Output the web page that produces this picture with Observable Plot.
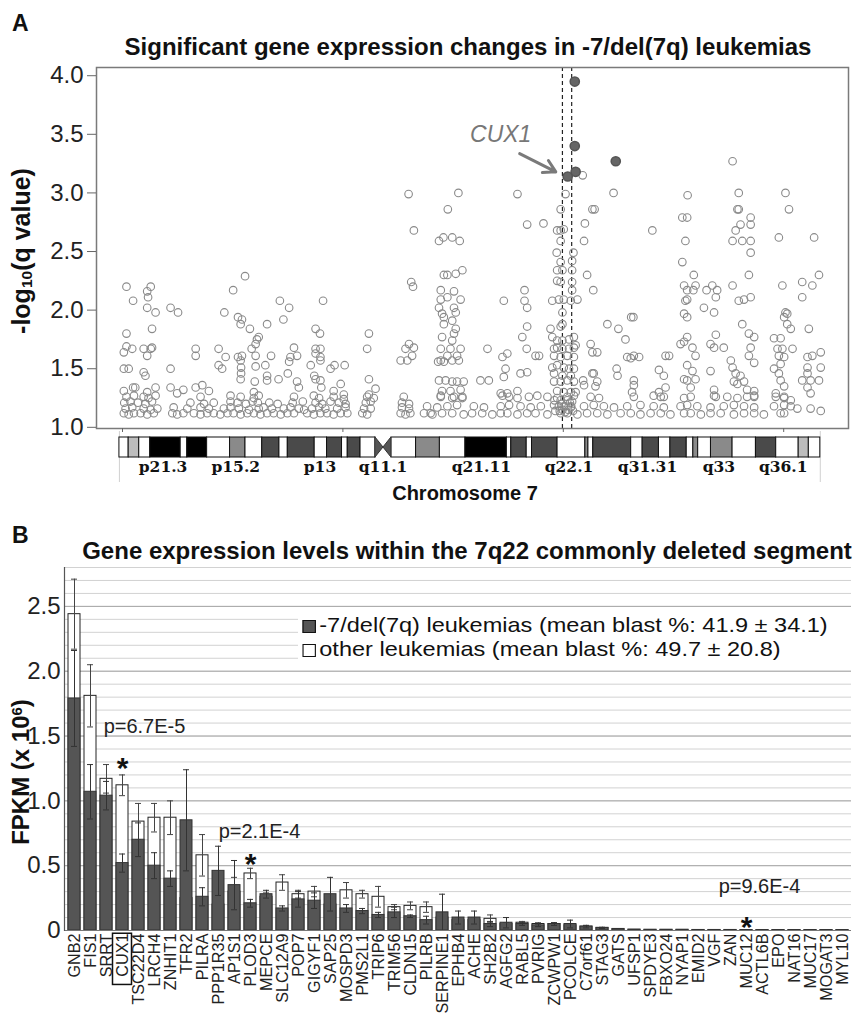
<!DOCTYPE html>
<html><head><meta charset="utf-8">
<script src="https://cdn.jsdelivr.net/npm/d3@7"></script>
<script src="https://cdn.jsdelivr.net/npm/@observablehq/plot@0.6"></script>
<style>
body{margin:0;background:#fff;font-family:"Liberation Sans",Arial,sans-serif;color:#111;}
#wrap{position:relative;width:857px;height:1015px;overflow:hidden;background:#fff;}
.abs{position:absolute;white-space:nowrap;line-height:1;}
.panel{font-weight:bold;font-size:23px;}
.title{font-weight:bold;font-size:24px;transform:translateX(-50%);}
.ylab{font-weight:bold;transform:translate(-50%,-50%) rotate(-90deg);}
.ylab sub{font-size:0.62em;vertical-align:-0.15em;}
.ylab sup{font-size:0.62em;vertical-align:0.45em;}
#legendBox{position:absolute;left:298px;top:612px;width:553px;height:56px;background:#fff;}
#legend{position:absolute;left:298px;top:613px;font-size:21px;line-height:24px;white-space:nowrap;transform:scaleX(1.12);transform-origin:0 0;}
.sw{display:inline-block;width:10px;height:11px;border:1.5px solid #111;margin:0 3px 0 4px;vertical-align:-1px;}
</style></head>
<body><div id="wrap">
<div class="abs panel" style="left:12px;top:12px;">A</div>
<div class="abs title" style="left:468px;top:35px;">Significant gene expression changes in -7/del(7q) leukemias</div>
<div class="abs ylab" style="left:22px;top:251px;font-size:25px;">-log<sub>10</sub>(q value)</div>
<div class="abs title" style="left:465px;top:483px;font-size:20px;">Chromosome 7</div>
<div class="abs panel" style="left:12px;top:524px;">B</div>
<div class="abs title" style="left:467px;top:539px;">Gene expression levels within the 7q22 commonly deleted segment</div>
<div class="abs ylab" style="left:21px;top:772px;font-size:24px;">FPKM (x 10<sup>6</sup>)</div>
</div>
<script>
const FONT = '"Liberation Sans", Arial, sans-serif';

// ---------------- Panel A data ----------------
const yTicksA = [1.0, 1.5, 2.0, 2.5, 3.0, 3.5, 4.0];
const xTicksA = [0, 50, 100, 150]; // Mb
const cdsBounds = [99.8, 101.9];   // 7q22 CDS (Mb)
const filledPts = [[102.6,3.95],[102.6,3.40],[102.8,3.18],[101.0,3.14],[111.9,3.27]];
const cuxLabel = [{x: 85.8, y: 3.50, text: "CUX1"}];
const cuxArrow = [{x1: 90.1, y1: 3.335, x2: 98.3, y2: 3.18}];
const hollowPts = [
 [0.9,2.20],[2.4,2.08],[0.9,1.80],[0.9,1.69],[2.2,1.67],[0.3,1.64],[0.3,1.50],[1.4,1.50],[0.3,1.31],[2.4,1.34],[2.9,1.34],
 [6.4,2.20],[5.6,2.16],[5.8,2.11],[5.6,2.02],[7.5,1.98],[6.7,1.84],[4.8,1.67],[6.4,1.67],[6.7,1.68],[5.6,1.61],[4.8,1.47],[5.2,1.44],[7.5,1.34],[5.6,1.30],
 [10.9,2.02],[12.6,1.98],[10.9,1.50],[10.9,1.34],[13.8,1.32],[12.4,1.29],
 [16.6,1.67],[16.6,1.61],[16.6,1.34],[18.1,1.36],[19.6,1.31],
 [21.8,1.67],[21.8,1.53],[22.6,1.50],[23.1,1.98],[23.4,1.60],[25.1,2.17],[27.8,2.29],
 [26.2,1.94],[27.1,1.92],[26.8,1.88],[28.9,1.84],[26.2,1.60],[27.1,1.61],[26.8,1.57],[26.9,1.51],[26.9,1.46],[26.8,1.41],
 [29.3,1.67],[30.2,1.71],[30.5,1.75],[30.9,1.77],[30.2,1.61],[30.2,1.52],[30.0,1.39],[29.8,1.30],
 [32.8,1.88],[33.7,1.61],[32.4,1.53],[32.8,1.44],[32.8,1.40],
 [35.7,2.08],[37.8,2.02],[36.5,1.92],[35.4,1.41],[37.8,1.56],[38.1,1.60],[38.9,1.68],[39.6,1.61],[37.5,1.46],[39.6,1.39],[40.0,1.34],
 [42.7,1.53],[43.8,1.84],[44.8,1.80],[43.8,1.67],[44.9,1.67],[43.8,1.63],[44.9,1.60],[44.9,1.57],[43.5,1.44],[43.8,1.41],[44.9,1.40],[45.1,1.34],[45.5,2.08],
 [47.2,1.50],[48.1,1.53],[50.4,1.53],[49.5,1.37],[47.9,1.31],[50.2,1.28],
 [55.5,1.67],[55.9,1.80],[55.9,1.41],[55.9,1.28],[57.4,1.33],
 [64.9,2.99],[66.1,2.68],[65.5,2.24],[65.9,2.20],[65.0,1.71],[64.2,1.67],[66.1,1.68],[65.7,1.61],[63.1,1.57],[64.6,1.57],
 // low band, p arm
 [0.3,1.12],[1.4,1.11],[2.6,1.12],[4.1,1.12],[5.6,1.11],[7.1,1.12],[11.3,1.12],[12.4,1.11],[13.8,1.12],[16.2,1.12],[17.7,1.11],[19.2,1.12],[20.7,1.12],[22.2,1.11],[23.8,1.12],[25.2,1.12],[26.8,1.11],[28.3,1.12],[29.8,1.12],[31.3,1.11],[32.8,1.12],[34.3,1.12],[35.9,1.11],[37.4,1.12],[38.9,1.12],[41.9,1.12],[43.4,1.11],[44.9,1.12],[46.4,1.12],[47.9,1.11],[49.5,1.12],[51.0,1.12],[54.4,1.12],[55.5,1.11],[63.1,1.12],[64.2,1.11],[65.3,1.12],[69.9,1.12],
 [0.7,1.16],[2.2,1.17],[4.8,1.16],[6.4,1.15],[7.9,1.16],[11.6,1.17],[14.7,1.16],[17.7,1.17],[19.6,1.16],[23.0,1.16],[24.5,1.17],[26.4,1.16],[28.7,1.15],[30.9,1.16],[32.0,1.17],[33.9,1.16],[36.6,1.16],[38.1,1.17],[40.0,1.16],[41.2,1.15],[43.0,1.16],[44.6,1.17],[46.0,1.16],[48.7,1.16],[50.6,1.17],[54.8,1.16],[56.3,1.16],[63.4,1.17],[65.0,1.16],
 [0.4,1.21],[1.8,1.22],[3.5,1.21],[5.2,1.20],[6.7,1.22],[15.4,1.21],[18.5,1.20],[20.7,1.21],[24.5,1.22],[26.1,1.21],[28.0,1.20],[29.5,1.22],[30.7,1.21],[33.3,1.21],[35.2,1.20],[38.6,1.21],[40.9,1.22],[43.8,1.21],[45.3,1.20],[47.2,1.22],[49.1,1.21],[50.6,1.20],[55.2,1.21],[56.3,1.22],[63.4,1.21],[65.0,1.20],
 [0.9,1.26],[2.6,1.27],[4.8,1.26],[5.9,1.25],[7.5,1.27],[17.7,1.26],[24.5,1.27],[26.8,1.26],[29.8,1.25],[30.9,1.27],[38.9,1.26],[43.4,1.27],[44.6,1.25],[47.9,1.26],[50.2,1.24],[55.5,1.26],[57.0,1.25],[63.8,1.26],
 // q arm
 [76.2,3.00],[73.8,2.86],[71.8,2.59],[72.8,2.62],[74.8,2.62],[76.5,2.59],
 [72.9,2.30],[73.7,2.30],[75.6,2.31],[77.1,2.34],[72.2,2.17],[75.2,2.16],[72.2,2.09],[73.7,2.11],[76.7,2.09],
 [71.8,2.02],[75.2,2.02],[72.5,1.97],[75.6,1.98],[72.9,1.94],[74.8,1.91],[72.9,1.88],[75.6,1.84],
 [72.5,1.77],[75.2,1.80],[74.8,1.74],[72.2,1.67],[74.4,1.67],[76.7,1.67],
 [71.6,1.56],[72.2,1.57],[72.9,1.56],[74.8,1.57],[76.3,1.57],[73.7,1.61],[75.9,1.61],
 [71.8,1.40],[73.3,1.40],[74.8,1.39],[75.9,1.39],[77.4,1.39],
 [72.5,1.31],[74.4,1.31],[76.7,1.32],[72.2,1.27],[75.2,1.26],[77.1,1.25],
 [82.8,1.67],[86.2,1.60],[87.3,1.63],[86.9,1.50],[86.5,1.43],
 [81.2,1.40],[83.1,1.40],[85.8,1.29],[87.3,1.29],[89.6,1.31],
 [90.3,1.46],[91.8,1.47],[93.7,1.61],[94.5,1.61],
 [89.6,2.99],[91.8,2.73],[95.5,2.74],[91.2,2.17],[91.2,2.08],[91.8,2.02],[91.8,1.86],[90.7,1.77],[91.7,1.67],[86.5,2.08],
 [100.5,2.99],[99.4,2.86],[98.6,2.68],[99.4,2.68],[100.1,2.69],[99.4,2.59],[98.5,2.49],[102.3,2.49],[99.4,2.41],[102.0,2.42],
 [98.6,2.34],[99.8,2.34],[102.0,2.34],[98.6,2.25],[99.4,2.24],[102.0,2.24],[102.0,2.17],
 [97.5,2.08],[99.0,2.09],[100.1,2.09],[101.7,2.08],[103.2,2.09],[99.8,1.98],[97.1,1.84],[99.4,1.86],[99.8,1.88],
 [97.5,1.77],[98.6,1.74],[99.8,1.74],[101.3,1.75],[102.4,1.77],[102.8,1.70],
 [97.9,1.67],[98.6,1.68],[99.8,1.67],[101.3,1.67],[102.4,1.68],
 [97.9,1.61],[99.4,1.60],[100.9,1.61],[102.4,1.60],
 [97.5,1.51],[98.6,1.53],[100.1,1.51],[101.3,1.50],[102.4,1.50],
 [97.9,1.46],[99.8,1.44],[101.7,1.44],
 [97.9,1.39],[99.4,1.39],[100.9,1.40],[102.4,1.39],
 [98.6,1.31],[100.1,1.30],[101.7,1.30],[102.8,1.30],
 [99.4,1.23],[100.9,1.23],[98.0,1.23],[102.0,1.22],[99.0,1.18],[100.5,1.18],[101.8,1.18],
 [104.4,3.15],[104.9,2.74],[104.7,2.59],[105.4,2.30],[106.8,2.17],[106.6,2.86],[107.1,2.86],
 [106.2,1.71],[106.6,1.64],[107.7,1.64],[106.6,1.46],[106.9,1.46],[107.7,1.39],[107.3,1.35],[104.5,1.40],[104.7,1.36],
 [111.4,3.00],[110.0,1.88],[112.5,1.84],[114.1,1.75],[115.4,1.94],[115.9,1.94],[112.1,1.50],[112.3,1.44],
 [114.5,1.60],[115.3,1.59],[116.0,1.61],[117.2,1.60],[116.0,1.40],[116.0,1.36],[115.6,1.30],
 [120.2,2.68],[121.7,1.49],[122.8,1.44],[123.2,1.61],[124.0,1.61],[121.7,1.30],[123.2,1.34],[122.8,1.26],
 [128.2,2.98],[127.0,2.79],[128.1,2.79],[127.7,2.59],[127.0,2.41],[129.6,2.30],[127.4,2.21],[128.1,2.17],[129.5,2.17],[130.0,2.21],[128.1,2.09],[127.7,2.08],[127.4,1.97],[128.1,1.94],
 [132.5,2.17],[133.8,2.21],[134.9,2.17],[134.6,2.11],[131.9,2.02],[134.2,1.98],
 [126.6,1.71],[127.4,1.73],[128.1,1.77],[129.3,1.68],[130.0,1.61],[128.1,1.53],[129.3,1.48],[130.0,1.41],[127.4,1.41],[128.1,1.40],[128.9,1.34],
 [133.4,1.71],[134.2,1.68],[134.6,1.79],[136.4,1.68],[133.4,1.48],[134.2,1.32],[134.6,1.26],
 [138.4,3.27],[139.8,3.00],[139.8,2.86],[139.5,2.86],[142.5,2.79],[140.2,2.73],[142.5,2.73],[139.1,2.68],
 [138.4,2.59],[140.6,2.59],[142.5,2.59],[142.5,2.49],[142.1,2.30],[138.4,2.21],[139.8,2.08],[142.5,2.11],[141.0,2.09],[140.6,1.88],
 [138.0,1.57],[138.4,1.51],[139.1,1.46],[140.2,1.44],[138.7,1.39],[139.5,1.37],
 [142.1,1.80],[143.3,1.77],[142.5,1.68],[142.1,1.61],[143.3,1.55],[141.0,1.39],[141.7,1.32],[143.3,1.31],[143.3,1.26],
 [150.4,3.00],[151.2,2.86],[148.9,2.62],[156.9,2.62],[158.0,2.30],[156.5,2.21],[154.2,2.24],[154.2,2.11],[149.7,2.21],
 [150.4,1.98],[150.8,1.97],[150.1,1.94],[150.8,1.88],[151.6,1.84],[155.7,1.84],
 [147.8,1.76],[149.3,1.76],[148.6,1.67],[149.7,1.67],[152.0,1.67],[148.9,1.61],[150.1,1.60],[149.3,1.54],
 [147.8,1.50],[148.9,1.46],[149.3,1.40],[150.1,1.35],[148.2,1.29],[150.1,1.26],[151.6,1.23],
 [155.4,1.60],[156.5,1.61],[158.4,1.64],[155.4,1.51],[158.4,1.51],[155.4,1.46],[154.2,1.40],[156.1,1.40],[158.0,1.40],[155.4,1.34],[156.1,1.29],
 [153.1,1.16],[156.1,1.16],[158.4,1.14],
 // low band, q arm
 [68.4,1.12],[70.3,1.11],[72.5,1.12],[74.8,1.12],[77.4,1.11],[79.3,1.12],[81.6,1.12],[83.9,1.11],[85.8,1.12],[87.3,1.12],[89.6,1.11],[91.8,1.12],[93.7,1.12],[96.4,1.11],[99.4,1.12],[100.9,1.12],[103.2,1.11],[105.4,1.12],[107.7,1.12],[110.0,1.11],[113.0,1.12],[115.3,1.12],[117.5,1.11],[119.8,1.12],[122.1,1.12],[124.3,1.11],[127.4,1.12],[128.9,1.12],[131.2,1.11],[133.4,1.12],[135.7,1.12],[138.7,1.11],[141.0,1.12],[143.3,1.12],[145.5,1.11],[149.3,1.12],[150.1,1.12],
 [69.1,1.18],[71.4,1.17],[73.7,1.18],[75.9,1.19],[79.7,1.18],[82.0,1.17],[85.8,1.18],[87.7,1.19],[90.3,1.18],[92.6,1.17],[94.9,1.18],[97.9,1.19],[100.1,1.18],[101.7,1.17],[104.7,1.18],[106.9,1.19],[109.2,1.18],[111.5,1.17],[114.5,1.18],[117.5,1.19],[120.5,1.18],[122.8,1.17],[126.6,1.18],[128.1,1.19],[130.4,1.18],[133.4,1.17],[136.4,1.18],[138.7,1.19],[141.0,1.18],[143.3,1.17],[147.8,1.18],[150.1,1.19],[151.6,1.18],
 [72.2,1.26],[74.8,1.25],[77.1,1.26],[86.2,1.27],[87.7,1.26],[89.6,1.25],[92.2,1.26],[94.1,1.27],[96.4,1.26],[98.6,1.25],[100.9,1.26],[102.4,1.27],[106.2,1.26],[108.1,1.25],[116.0,1.26],[120.5,1.27],[122.1,1.26],[127.4,1.25],[128.9,1.26],[134.2,1.27],[137.2,1.26],[139.5,1.25],[141.7,1.26],[143.3,1.27],[148.2,1.26],[150.1,1.25],
 [99.2,1.14],[99.8,1.15],[100.4,1.13],[101.1,1.15],[99.6,1.20],[101.5,1.21],[98.2,1.14],[102.2,1.14]
];

// chromosome 7 ideogram (Mb)
const bandStart = [-0.7,1.4,3.8,6.3,13.2,14.7,19.2,24.4,27.9,31.7,35.6,37.5,43.6,46.4,49.8,51.1,54.0,
  61.0,66.6,72.0,77.8,87.2,88.2,91.7,92.9,98.7,105.0,105.7,106.8,115.4,118.0,121.7,124.3,128.0,129.5,130.6,133.5,138.4,143.7,148.3,153.4,155.7];
const bandEnd = [1.4,3.8,6.3,13.2,14.7,19.2,24.4,27.9,31.7,35.6,37.5,43.6,46.4,49.8,51.1,54.0,57.4,
  66.6,72.0,77.8,87.2,88.2,91.7,92.9,98.7,105.0,105.7,106.8,115.4,118.0,121.7,124.3,128.0,129.5,130.6,133.5,138.4,143.7,148.3,153.4,155.7,158.3];
const bandStain = ["w","lg","w","k","w","k","w","g","w","dg","w","dg","w","dg","w","dg","w",
  "w","g","w","k","w","dg","w","dg","w","g","w","dg","w","dg","w","dg","w","g","w","g","w","dg","w","lg","w"];
const stainColor = {w:"#ffffff", lg:"#bdbdbd", g:"#8a8a8a", dg:"#4a4a4a", k:"#000000"};
const centromere = [{x:57.4, lo:0, hi:1},{x:59.2, lo:0.5, hi:0.5},{x:61.0, lo:0, hi:1}];
const bandLabels = ["p21.3","p15.2","p13","q11.1","q21.11","q22.1","q31.31","q33","q36.1"];
const bandLabelPos = [9.2, 25.7, 44.8, 59.1, 81.4, 101.3, 119.1, 135.3, 149.9];

// ---------------- Panel B data ----------------
const genes = ["GNB2","FIS1","SRRT","CUX1","TSC22D4","LRCH4","ZNHIT1","TFR2","PILRA","PPP1R35","AP1S1","PLOD3","MEPCE","SLC12A9","POP7","GIGYF1","SAP25","MOSPD3","PMS2L1","TRIP6","TRIM56","CLDN15","PILRB","SERPINE1","EPHB4","ACHE","SH2B2","AGFG2","RABL5","PVRIG","ZCWPW1","PCOLCE","C7orf61","STAG3","GATS","UFSP1","SPDYE3","FBXO24","NYAP1","EMID2","VGF","ZAN","MUC12","ACTL6B","EPO","NAT16","MUC17","MOGAT3","MYL10"];
const delMean = [1.79,1.07,1.04,0.52,0.70,0.50,0.40,0.85,0.26,0.46,0.35,0.21,0.28,0.17,0.24,0.23,0.28,0.17,0.15,0.12,0.14,0.11,0.08,0.14,0.10,0.10,0.05,0.06,0.05,0.04,0.05,0.05,0.03,0.02,0.012,0.006,0.005,0.005,0.005,0.004,0.004,0.004,0.003,0.003,0.003,0.003,0.003,0.003,0.003];
const delSD =   [0.37,0.21,0.11,0.07,0.13,0.10,0.06,0.39,0.07,0.19,0.19,0.03,0.03,0.02,0.06,0.06,0.13,0.03,0.02,0.02,0.04,0.01,0.03,0.14,0.05,0.05,0.02,0.04,0.01,0.01,0.01,0.03,0.01,0.005,0,0,0,0,0,0,0,0,0,0,0,0,0,0,0];
const otherMean = [2.44,1.81,1.17,1.12,0.84,0.87,0.87,0.25,0.58,0.20,0.30,0.44,0.26,0.37,0.28,0.30,0.20,0.31,0.28,0.26,0.18,0.19,0.18,0.10,0.08,0.08,0.09,0.05,0.06,0.05,0.05,0.04,0.03,0.02,0.01,0.006,0.005,0.005,0.005,0.004,0.004,0.004,0.003,0.003,0.003,0.003,0.003,0.003,0.003];
const otherSD =   [0.27,0.24,0.11,0.08,0.14,0.11,0.13,0.05,0.16,0.05,0.11,0.04,0.03,0.06,0.03,0.04,0.05,0.06,0.03,0.08,0.02,0.03,0.04,0.02,0.02,0.02,0.03,0.01,0.01,0.01,0.01,0.01,0.005,0,0,0,0,0,0,0,0,0,0,0,0,0,0,0,0];
const yTicksB = [0, 0.5, 1.0, 1.5, 2.0, 2.5];
const sigGenes = [{gene:"CUX1", y:1.30},{gene:"PLOD3", y:0.56},{gene:"MUC12", y:0.07}];
const pLabels = [{gene:"CUX1", y:1.57, text:"p=6.7E-5", dx:22},{gene:"PLOD3", y:0.76, text:"p=2.1E-4", dx:9},{gene:"MUC12", y:0.34, text:"p=9.6E-4", dx:13}];
const legendItems = [
  {label:"-7/del(7q) leukemias (mean blast %: 41.9 ± 34.1)", color:"#555"},
  {label:"other leukemias (mean blast %: 49.7 ± 20.8)", color:"#fff"}
];

const wrap = document.getElementById("wrap");
function place(node, top){ node.style.position="absolute"; node.style.left="0px"; node.style.top=top+"px"; wrap.appendChild(node); }

// ---------- Panel A scatter ----------
const xDom = [-5.9, 164.7];
const plotA = Plot.plot({
  width: 857, height: 450, marginLeft: 96, marginRight: 9, marginTop: 67, marginBottom: 22,
  x: {domain: xDom, axis: null},
  y: {domain: [0.99, 4.07], axis: null},
  style: {fontFamily: FONT, color: "#222", background: "transparent"},
  marks: [
    Plot.ruleX(cdsBounds, {stroke: "#222", strokeWidth: 1.2, strokeDasharray: "4,3"}),
    Plot.dot(hollowPts, {x: d => d[0], y: d => d[1], r: 3.8, stroke: "#8a8a8a", strokeWidth: 1.1, fill: "none"}),
    Plot.dot(filledPts, {x: d => d[0], y: d => d[1], r: 4.6, fill: "#666", stroke: "#555"}),
    Plot.arrow(cuxArrow, {x1: "x1", y1: "y1", x2: "x2", y2: "y2", stroke: "#7a7a7a", strokeWidth: 3, headLength: 12}),
    Plot.text(cuxLabel, {x: "x", y: "y", text: "text", fontSize: 23, fontStyle: "italic", fill: "#777"}),
    Plot.frame({stroke: "#7a7a7a", strokeWidth: 1.5}),
    Plot.axisY({ticks: yTicksA, tickFormat: d3.format(".1f"), tickSize: 9, tickPadding: 4, fontSize: 24, stroke: "#666", label: null}),
    Plot.axisX({ticks: xTicksA, tickSize: 4, tickFormat: () => "", stroke: "#666", label: null})
  ]
});
place(plotA, 0);

// ---------- Ideogram ----------
const bands = bandStart.map((s, i) => ({x1: s, x2: bandEnd[i], stain: bandStain[i]}));
const ideo = Plot.plot({
  width: 857, height: 52, marginLeft: 96, marginRight: 9, marginTop: 0, marginBottom: 0,
  x: {domain: xDom, axis: null},
  y: {domain: [0, 1], range: [27, 7], axis: null},
  style: {fontFamily: FONT, background: "transparent"},
  marks: [
    Plot.ruleX([bandStart[0], bandEnd[bandEnd.length - 1]], {y1: 1.3, y2: -2.1, stroke: "#d0d0d0"}),
    Plot.rect(bands, {x1: "x1", x2: "x2", y1: 0, y2: 1, fill: d => stainColor[d.stain], stroke: "#111", strokeWidth: 1}),
    Plot.area(centromere, {x1: "x", y1: "lo", y2: "hi", fill: "#555", stroke: "#333", curve: "linear"}),
    Plot.text(bandLabels, {x: (d, i) => bandLabelPos[i], y: -0.5, text: d => d, fontFamily: '"DejaVu Serif", serif', fontWeight: "bold", fontSize: 15.5, fill: "#111"})
  ]
});
place(ideo, 430);

// ---------- Panel B ----------
const rows = genes.map((g, i) => ({gene: g, del: delMean[i], delSD: delSD[i], other: otherMean[i], otherSD: otherSD[i]}));
const gridMinor = d3.range(1, 29).map(i => i / 10);
const plotB = Plot.plot({
  width: 857, height: 490, marginLeft: 64, marginRight: 6, marginTop: 42, marginBottom: 85,
  x: {domain: genes, paddingInner: 0.28, paddingOuter: 0.14},
  y: {domain: [0, 2.8]},
  style: {fontFamily: FONT, color: "#222", background: "transparent"},
  marks: [
    Plot.ruleY(gridMinor, {stroke: "#d2d2d2", strokeWidth: 1}),
    Plot.ruleY(yTicksB.slice(1), {stroke: "#a8a8a8", strokeWidth: 1}),
    Plot.barY(rows, {x: "gene", y: "other", fill: "#fff", stroke: "#222", strokeWidth: 1}),
    Plot.ruleX(rows.filter(d => d.otherSD > 0), {x: "gene", y1: d => d.other - d.otherSD, y2: d => d.other + d.otherSD, stroke: "#444", strokeWidth: 1}),
    Plot.tickY(rows.filter(d => d.otherSD > 0), {x: "gene", y: d => d.other + d.otherSD, stroke: "#444", insetLeft: 3, insetRight: 3}),
    Plot.tickY(rows.filter(d => d.otherSD > 0), {x: "gene", y: d => d.other - d.otherSD, stroke: "#444", insetLeft: 3, insetRight: 3}),
    Plot.barY(rows, {x: "gene", y: "del", fill: "#555", stroke: "#333", strokeWidth: 1}),
    Plot.ruleX(rows.filter(d => d.delSD > 0), {x: "gene", y1: d => d.del - d.delSD, y2: d => d.del + d.delSD, stroke: "#333", strokeWidth: 1}),
    Plot.tickY(rows.filter(d => d.delSD > 0), {x: "gene", y: d => d.del + d.delSD, stroke: "#333", insetLeft: 3, insetRight: 3}),
    Plot.tickY(rows.filter(d => d.delSD > 0), {x: "gene", y: d => d.del - d.delSD, stroke: "#333", insetLeft: 3, insetRight: 3}),
    Plot.ruleY([0], {stroke: "#777"}),
    Plot.frame({anchor: "left", stroke: "#555", strokeWidth: 1.2}),
    Plot.text(sigGenes, {x: "gene", y: "y", text: () => "*", fontSize: 30, fontWeight: "bold", fill: "#111", dy: 6}),
    Plot.text(pLabels, {x: "gene", y: "y", text: "text", fontSize: 20, fill: "#222"}),
    Plot.barY([{gene: "CUX1"}], {x: "gene", y1: -0.025, y2: -0.42, fill: "none", stroke: "#111", strokeWidth: 1.5, insetLeft: -3.5, insetRight: -3.5}),
    Plot.axisY({ticks: yTicksB, tickFormat: d => d === 0 ? "0" : d.toFixed(1), tickSize: 0, tickPadding: 4, fontSize: 24, label: null}),
    Plot.axisX({tickSize: 0, tickRotate: -90, tickPadding: 3, fontSize: 16.2, label: null})
  ]
});
place(plotB, 525);

// shift p-value labels horizontally by their own dx
plotB.querySelectorAll("g[aria-label='text'] text").forEach(t => {
  const p = pLabels.find(p => p.text === t.textContent);
  if (p) t.setAttribute("transform", (t.getAttribute("transform") || "") + ` translate(${p.dx},0)`);
});

// legend (HTML) over a white box that hides the gridlines
const legBox = document.createElement("div");
legBox.id = "legendBox";
wrap.appendChild(legBox);
const leg = document.createElement("div");
leg.id = "legend";
legendItems.forEach(it => {
  const row = document.createElement("div");
  const sw = document.createElement("span");
  sw.className = "sw"; sw.style.background = it.color;
  row.appendChild(sw);
  row.appendChild(document.createTextNode(it.label));
  leg.appendChild(row);
});
wrap.appendChild(leg);
wrap.querySelectorAll(".abs").forEach(n => wrap.appendChild(n));
</script>
</body></html>
